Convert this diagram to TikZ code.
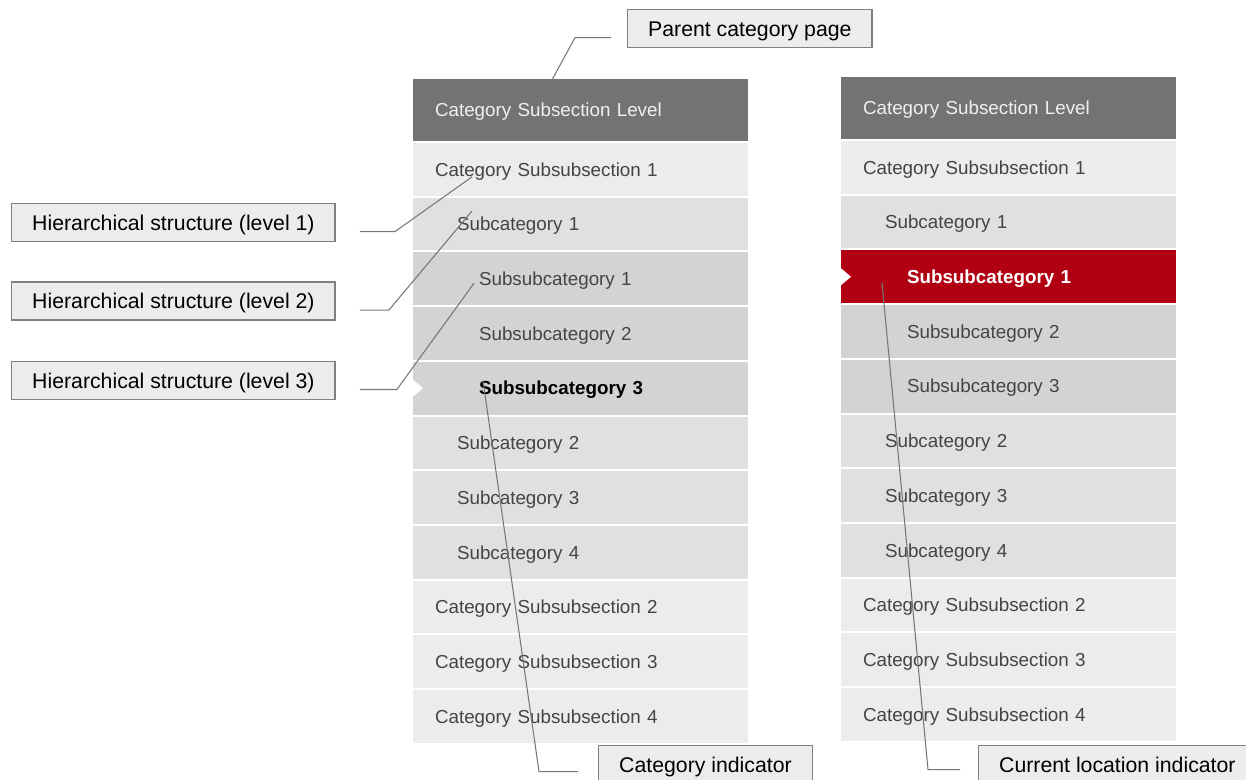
\documentclass[tikz,border=0pt]{standalone}
\usepackage{fontspec}
\setmainfont{Liberation Sans}
\usepackage{tikz}
\usetikzlibrary{positioning,calc}
\definecolor{hdrgray}{RGB}{115,115,115}
\definecolor{lvonefill}{RGB}{236,236,236}
\definecolor{lvtwofill}{RGB}{224,224,224}
\definecolor{lvthreefill}{RGB}{211,211,211}
\definecolor{curred}{RGB}{177,0,18}
\definecolor{menutext}{RGB}{68,68,68}
\definecolor{notebox}{RGB}{236,236,236}
\definecolor{noteline}{RGB}{128,128,128}
\definecolor{leadgray}{RGB}{118,118,118}
\newcommand{\menufont}{\fontsize{10.7}{13}\selectfont}
\newcommand{\notefont}{\fontsize{12.1}{14.5}\selectfont}

\begin{document}
\begin{tikzpicture}[
    node distance=0.04cm,
    hdr/.style={fill=hdrgray, text=white!94!black, inner xsep=0.44cm, inner ysep=0pt, text width=5.82cm, text depth=0pt, minimum height=1.24cm, align=left, font=\menufont, outer sep=0pt},
    item/.style={fill=#1, text=menutext, inner ysep=0pt, text depth=0pt, minimum height=1.054cm, align=left, font=\menufont, outer sep=0pt},
    lvone/.style={item=lvonefill, inner xsep=0.44cm, text width=5.82cm},
    lvtwo/.style={item=lvtwofill, inner xsep=0.88cm, text width=4.94cm},
    lvthree/.style={item=lvthreefill, inner xsep=1.32cm, text width=4.06cm},
    here/.style={font=\menufont\bfseries, text=black},
    note/.style={draw=noteline, fill=notebox, line width=0.8pt, inner xsep=0.41cm, inner ysep=0pt, text depth=0pt, minimum height=0.76cm, font=\notefont},
    lead/.style={draw=leadgray, line width=0.6pt}
]
\useasboundingbox (0,0) rectangle (24.92,-15.58);

% left menu
\node[hdr, anchor=north west] (hdrA) at (8.26,-1.58) {Category Subsection Level};
\node[lvone, below=of hdrA] (rowA1) {Category Subsubsection 1};
\node[lvtwo, below=of rowA1] (rowA2) {Subcategory 1};
\node[lvthree, below=of rowA2] (rowA3) {Subsubcategory 1};
\node[lvthree, below=of rowA3] (rowA4) {Subsubcategory 2};
\node[lvthree, here, below=of rowA4] (rowA5) {Subsubcategory 3};
\node[lvtwo, below=of rowA5] (rowA6) {Subcategory 2};
\node[lvtwo, below=of rowA6] (rowA7) {Subcategory 3};
\node[lvtwo, below=of rowA7] (rowA8) {Subcategory 4};
\node[lvone, below=of rowA8] (rowA9) {Category Subsubsection 2};
\node[lvone, below=of rowA9] (rowA10) {Category Subsubsection 3};
\node[lvone, below=of rowA10] (rowA11) {Category Subsubsection 4};
\fill[white] ([yshift=0.17cm]rowA5.west) -- ([xshift=0.2cm]rowA5.west) -- ([yshift=-0.17cm]rowA5.west) -- cycle;

% right menu
\node[hdr, anchor=north west] (hdrB) at (16.82,-1.54) {Category Subsection Level};
\node[lvone, below=of hdrB] (rowB1) {Category Subsubsection 1};
\node[lvtwo, below=of rowB1] (rowB2) {Subcategory 1};
\node[lvthree, here, fill=curred, text=white, below=of rowB2] (rowB3) {Subsubcategory 1};
\node[lvthree, below=of rowB3] (rowB4) {Subsubcategory 2};
\node[lvthree, below=of rowB4] (rowB5) {Subsubcategory 3};
\node[lvtwo, below=of rowB5] (rowB6) {Subcategory 2};
\node[lvtwo, below=of rowB6] (rowB7) {Subcategory 3};
\node[lvtwo, below=of rowB7] (rowB8) {Subcategory 4};
\node[lvone, below=of rowB8] (rowB9) {Category Subsubsection 2};
\node[lvone, below=of rowB9] (rowB10) {Category Subsubsection 3};
\node[lvone, below=of rowB10] (rowB11) {Category Subsubsection 4};
\fill[white] ([yshift=0.17cm]rowB3.west) -- ([xshift=0.2cm]rowB3.west) -- ([yshift=-0.17cm]rowB3.west) -- cycle;

% notes
\node[note, anchor=north west] (parent) at (12.54,-0.18) {Parent category page};
\node[note, anchor=north west] (lvA) at (0.22,-4.06) {Hierarchical structure (level 1)};
\node[note, below=0.78cm of lvA] (lvB) {Hierarchical structure (level 2)};
\node[note, below=0.8cm of lvB] (lvC) {Hierarchical structure (level 3)};
\node[note, anchor=north west] (catind) at (11.96,-14.9) {Category indicator};
\node[note, anchor=north west] (curind) at (19.56,-14.9) {Current location indicator};

% leader lines
\coordinate (pHdr) at ($(hdrA.north west)+(2.68,-0.2)$);
\coordinate (pOne) at ($(rowA1.west)+(1.18,-0.15)$);
\coordinate (pTwo) at ($(rowA2.west)+(1.18,0.26)$);
\coordinate (pThree) at ($(rowA3.west)+(1.22,-0.09)$);
\coordinate (pCat) at ($(rowA5.west)+(1.4,0.15)$);
\coordinate (pCur) at ($(rowB3.west)+(0.82,-0.12)$);
\draw[lead] ([shift={(-0.32,-0.18)}]parent.west) -- ++(-0.72,0) -- (pHdr);
\draw[lead] ([shift={(0.48,-0.18)}]lvA.east) -- ++(0.7,0) -- (pOne);
\draw[lead] ([shift={(0.48,-0.18)}]lvB.east) -- ++(0.58,0) -- (pTwo);
\draw[lead] ([shift={(0.48,-0.18)}]lvC.east) -- ++(0.74,0) -- (pThree);
\draw[lead] ([shift={(-0.4,-0.14)}]catind.west) -- ++(-0.78,0) -- (pCat);
\draw[lead] ([shift={(-0.36,-0.1)}]curind.west) -- ++(-0.64,0) -- (pCur);
\end{tikzpicture}
\end{document}
